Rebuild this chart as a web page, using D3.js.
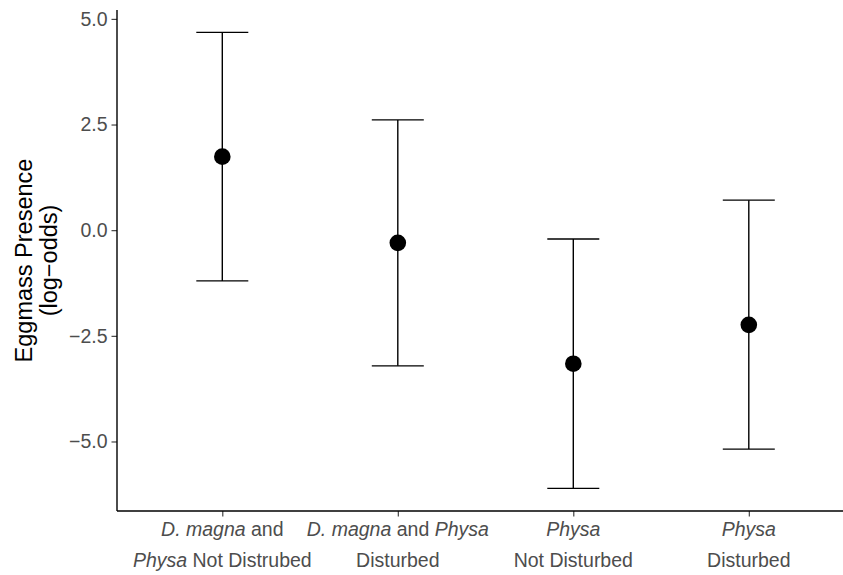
<!DOCTYPE html>
<html lang="en">
<head>
<meta charset="utf-8">
<title>Eggmass presence</title>
<script src="https://d3js.org/d3.v7.min.js"></script>
<style>
  body { margin: 0; background: #fff; }
  text { font-family: "Liberation Sans", Arial, sans-serif; }
</style>
</head>
<body>
<svg width="843" height="575"></svg>
<script>
// treatment groups, left to right
var groups = ["dmPhysaND", "dmPhysaD", "physaND", "physaD"];
// estimate (log-odds) and interval ends
var estimate = [1.74, -0.30, -3.16, -2.24];
var lower = [-1.20, -3.21, -6.11, -5.18];
var upper = [4.68, 2.61, -0.21, 0.71];
var yTicks = [-5, -2.5, 0, 2.5, 5];
// tick labels: each line is a list of [text, italic]
var xLabels = [
  [[["D. magna", true], [" and", false]], [["Physa", true], [" Not Distrubed", false]]],
  [[["D. magna", true], [" and ", false], ["Physa", true]], [["Disturbed", false]]],
  [[["Physa", true]], [["Not Disturbed", false]]],
  [[["Physa", true]], [["Disturbed", false]]]
];

var svg = d3.select("svg");
var margin = {left: 117, top: 10, right: 0, bottom: 64};
var width = 843 - margin.left - margin.right,
    height = 575 - margin.top - margin.bottom;

var g = svg.append("g").attr("transform", "translate(" + margin.left + "," + margin.top + ")");

// ggplot-like discrete spacing: 175.5 px between groups, 0.6 step padding
var x = d3.scalePoint().domain(groups).range([105.3, 105.3 + 3 * 175.5]);

var y = d3.scaleLinear()
    .domain([-6.645, 5.21])
    .range([height, 0]);

var data = groups.map(function(d, i) {
  return {g: d, est: estimate[i], lo: lower[i], hi: upper[i], lab: xLabels[i]};
});

// axes
var yAxis = g.append("g")
    .call(d3.axisLeft(y).tickValues(yTicks).tickSize(5.5).tickPadding(4));
yAxis.select(".domain").remove();
yAxis.selectAll(".tick line").attr("stroke", "#333").attr("stroke-width", 1.1);
yAxis.selectAll(".tick text")
    .attr("fill", "#4d4d4d")
    .style("font-size", "19.5px")
    .text(function(d) { return d3.format(".1f")(d).replace("-", "\u2212"); });

var xAxis = g.append("g")
    .attr("transform", "translate(0," + height + ")")
    .call(d3.axisBottom(x).tickSize(5.5).tickFormat(""));
xAxis.select(".domain").remove();
xAxis.selectAll(".tick line").attr("stroke", "#333").attr("stroke-width", 1.1);

g.append("line")
    .attr("x1", 0).attr("x2", 0).attr("y1", 0).attr("y2", height)
    .attr("stroke", "#000").attr("stroke-width", 1.4);
g.append("line")
    .attr("x1", 0).attr("x2", width).attr("y1", height).attr("y2", height)
    .attr("stroke", "#000").attr("stroke-width", 1.4);

// x labels, two lines each
data.forEach(function(d) {
  d.lab.forEach(function(line, li) {
    var t = g.append("text")
        .attr("x", x(d.g))
        .attr("y", height + 25 + li * 31)
        .attr("text-anchor", "middle")
        .attr("fill", "#4d4d4d")
        .style("font-size", "19.5px");
    line.forEach(function(part) {
      t.append("tspan")
          .style("font-style", part[1] ? "italic" : "normal")
          .text(part[0]);
    });
  });
});

// error bars
var capW = 26;
var bars = g.selectAll(".bar").data(data).enter().append("g").attr("class", "bar");
bars.append("line")
    .attr("x1", function(d) { return x(d.g); })
    .attr("x2", function(d) { return x(d.g); })
    .attr("y1", function(d) { return y(d.lo); })
    .attr("y2", function(d) { return y(d.hi); });
bars.append("line")
    .attr("x1", function(d) { return x(d.g) - capW; })
    .attr("x2", function(d) { return x(d.g) + capW; })
    .attr("y1", function(d) { return y(d.hi); })
    .attr("y2", function(d) { return y(d.hi); });
bars.append("line")
    .attr("x1", function(d) { return x(d.g) - capW; })
    .attr("x2", function(d) { return x(d.g) + capW; })
    .attr("y1", function(d) { return y(d.lo); })
    .attr("y2", function(d) { return y(d.lo); });
bars.selectAll("line").attr("stroke", "#000").attr("stroke-width", 1.4);

g.selectAll(".pt").data(data).enter().append("circle")
    .attr("class", "pt")
    .attr("cx", function(d) { return x(d.g); })
    .attr("cy", function(d) { return y(d.est); })
    .attr("r", 8.3)
    .attr("fill", "#000");

// y title
var yt = svg.append("text")
    .attr("transform", "translate(32," + (margin.top + height / 2) + ") rotate(-90)")
    .attr("text-anchor", "middle")
    .style("font-size", "23.5px")
    .attr("fill", "#000");
yt.append("tspan").attr("x", 0).attr("dy", 0).text("Eggmass Presence");
yt.append("tspan").attr("x", 0).attr("dy", 25).text("(log\u2212odds)");
</script>
</body>
</html>
